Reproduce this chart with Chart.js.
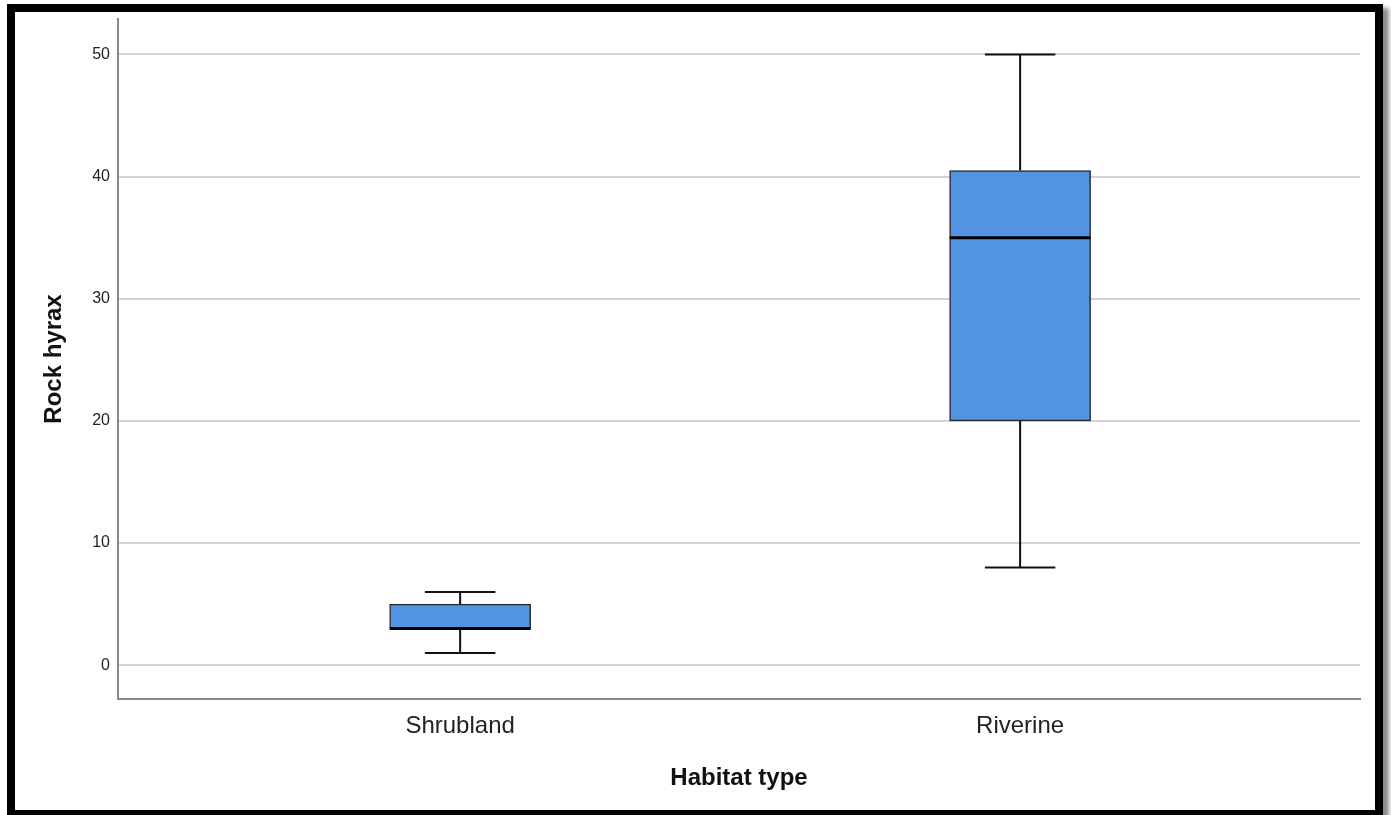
<!DOCTYPE html>
<html>
<head>
<meta charset="utf-8">
<script src="https://cdn.jsdelivr.net/npm/chart.js@4.4.1/dist/chart.umd.min.js"></script>
<style>
  html, body { margin: 0; padding: 0; background: #fff; overflow: hidden; }
  #frame {
    position: absolute; left: 7px; top: 4px; width: 1360px; height: 798px;
    border: 8px solid #000; background: #fff;
    box-shadow: 6px 4px 4px rgba(0,0,0,0.45);
  }
  #wrap { position: absolute; left: 15px; top: 12px; width: 1361px; height: 798px; }
</style>
</head>
<body>
<div id="frame"></div>
<div id="wrap"><canvas id="box"></canvas></div>
<script>
const habitats = ['Shrubland', 'Riverine'];
const positions = [1, 2];
const mins    = [1, 8];
const q1s     = [3, 20];
const medians = [3, 35];
const q3s     = [5, 40.5];
const maxs    = [6, 50];
const yTicks  = [0, 10, 20, 30, 40, 50];

const FONT = "'Liberation Sans', Arial, sans-serif";
const BOX_W = 141;

const whiskers = {
  id: 'whiskers',
  afterDatasetsDraw(chart) {
    const {ctx, scales: {x, y}} = chart;
    ctx.save();
    positions.forEach((p, i) => {
      const cx = x.getPixelForValue(p);
      ctx.strokeStyle = '#111';
      ctx.lineWidth = 2;
      ctx.beginPath();
      ctx.moveTo(cx, y.getPixelForValue(maxs[i]));
      ctx.lineTo(cx, y.getPixelForValue(q3s[i]));
      ctx.moveTo(cx, y.getPixelForValue(q1s[i]));
      ctx.lineTo(cx, y.getPixelForValue(mins[i]));
      // caps
      [maxs[i], mins[i]].forEach(v => {
        const py = y.getPixelForValue(v);
        ctx.moveTo(cx - BOX_W / 4, py);
        ctx.lineTo(cx + BOX_W / 4, py);
      });
      ctx.stroke();
      // median
      ctx.lineWidth = 3;
      ctx.strokeStyle = '#000';
      ctx.beginPath();
      const my = y.getPixelForValue(medians[i]);
      ctx.moveTo(cx - BOX_W / 2, my);
      ctx.lineTo(cx + BOX_W / 2, my);
      ctx.stroke();
    });
    ctx.restore();
  }
};

new Chart(document.getElementById('box'), {
  type: 'bar',
  data: {
    datasets: [{
      data: positions.map((p, i) => ({x: p, y: [q1s[i], q3s[i]]})),
      backgroundColor: '#5294e2',
      borderColor: '#2a2a2a',
      borderWidth: 1.5,
      borderSkipped: false,
      barThickness: BOX_W
    }]
  },
  options: {
    responsive: true,
    maintainAspectRatio: false,
    animation: false,
    layout: { padding: { top: 7, right: 16, left: 0, bottom: 0 } },
    plugins: { legend: { display: false }, tooltip: { enabled: false } },
    scales: {
      x: {
        type: 'linear',
        offset: false,
        min: 0.389,
        max: 2.607,
        afterBuildTicks: s => { s.ticks = positions.map(v => ({value: v})); },
        afterFit: s => { s.height = 111; s.paddingLeft = 0; s.paddingRight = 0; },
        ticks: {
          callback: v => habitats[positions.indexOf(v)] || '',
          font: { family: FONT, size: 24 },
          color: '#222',
          padding: 13,
          maxRotation: 0
        },
        grid: { display: false, drawTicks: false },
        border: { display: true, color: '#8a8a8a', width: 2 },
        title: {
          display: true,
          text: 'Habitat type',
          font: { family: FONT, size: 24, weight: 'bold' },
          color: '#111',
          padding: { top: 0, bottom: 17 }
        }
      },
      y: {
        min: -2.77,
        max: 52.9,
        afterBuildTicks: s => { s.ticks = yTicks.map(v => ({value: v})); },
        afterFit: s => { s.width = 103; s.paddingTop = 0; s.paddingBottom = 0; },
        ticks: {
          font: { family: FONT, size: 16 },
          color: '#222',
          padding: 8
        },
        grid: { color: '#d2d2d2', lineWidth: 2, drawTicks: false },
        border: { display: true, color: '#8a8a8a', width: 2 },
        title: {
          display: true,
          text: 'Rock hyrax',
          font: { family: FONT, size: 24, weight: 'bold' },
          color: '#111',
          padding: { top: 25, bottom: 0 }
        }
      }
    }
  },
  plugins: [whiskers]
});
</script>
</body>
</html>
